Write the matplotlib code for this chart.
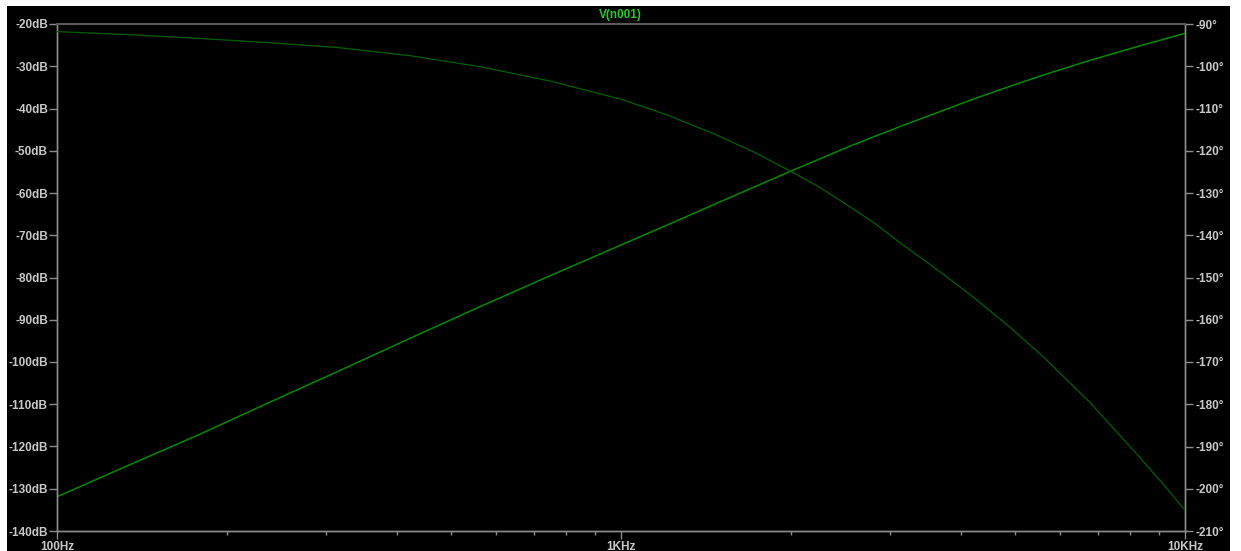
import matplotlib
matplotlib.use("Agg")
import matplotlib.pyplot as plt
from matplotlib.patches import Rectangle
from matplotlib.ticker import FixedLocator, LogLocator, NullFormatter

plt.rcParams['font.family'] = ['Liberation Sans', 'DejaVu Sans']

# values
freq = [100, 133.6, 177.8, 236.7, 316.2, 422.6, 562.3, 748.4, 1000, 1211.5, 1468,
        1714, 2001, 2245, 2516, 2818, 3162, 3649, 4209, 4856, 5600, 6785, 8254, 9104, 10000]
mag_db = [-131.9, -124.5, -117.3, -109.7, -102.1, -94.4, -86.9, -79.6, -72.3, -67.5, -62.6,
          -58.7, -54.8, -52.0, -49.2, -46.6, -44.0, -40.9, -37.8, -34.9, -32.1, -28.6, -25.3,
          -23.7, -22.2]
phase_deg = [-91.8, -92.5, -93.4, -94.4, -95.6, -97.5, -100.1, -103.5, -107.8, -111.6, -116.1,
             -120.2, -124.9, -128.6, -132.8, -137.2, -142.3, -148.3, -154.6, -161.4, -168.7,
             -179.6, -192.1, -198.6, -205.1]

db_ticks = list(range(-140, -19, 10))
deg_ticks = list(range(-210, -89, 10))
f_ticks = [100, 1000, 10000]
f_labels = ["100Hz", "1KHz", "10KHz"]

label_col = "#c8c8c8"
axis_col = "#8c8c8c"

fig = plt.figure(figsize=(12.41, 5.51), dpi=100, facecolor="white")
fig.patches.append(Rectangle((7 / 1241, 0), (1230 - 7) / 1241, 1 - 6 / 551,
                             transform=fig.transFigure, facecolor="black",
                             edgecolor="none", zorder=-10))

ax = fig.add_axes([57 / 1241, 1 - 531 / 551, (1185 - 57) / 1241, (531 - 24) / 551])
ax.set_facecolor("black")
ax.set_xscale("log")
ax.set_xlim(100, 10000)
ax.set_ylim(-140, -20)

ax.plot(freq, mag_db, color="#008a00", lw=1.1, zorder=3)

ax2 = ax.twinx()
ax2.set_ylim(-210, -90)
ax2.plot(freq, phase_deg, color="#006000", lw=0.9, zorder=3)

ax.set_yticks(db_ticks)
ax.set_yticklabels([f"{v}dB" for v in db_ticks])
ax2.set_yticks(deg_ticks)
ax2.set_yticklabels([f"{v}°" for v in deg_ticks])

ax.xaxis.set_major_locator(FixedLocator(f_ticks))
ax.set_xticklabels(f_labels)
ax.xaxis.set_minor_locator(LogLocator(base=10, subs=range(2, 10)))
ax.xaxis.set_minor_formatter(NullFormatter())

for a in (ax, ax2):
    for side in ("left", "right", "bottom"):
        a.spines[side].set_color(axis_col)
        a.spines[side].set_linewidth(1.0)
    a.spines["top"].set_color("#5a5a5a")
    a.spines["top"].set_linewidth(1.5)

ax.tick_params(axis="y", which="major", direction="out", length=6, width=1,
               color=axis_col, labelcolor=label_col, labelsize=8.5, pad=0.5)
ax2.tick_params(axis="y", which="major", direction="out", length=6, width=1,
                color=axis_col, labelcolor=label_col, labelsize=8.5, pad=1.5)
ax.tick_params(axis="x", which="major", direction="out", length=6, width=1,
               color=axis_col, labelcolor=label_col, labelsize=8.5, pad=1)
ax.tick_params(axis="x", which="minor", direction="out", length=3, width=1,
               color=axis_col)

for lbl in ax.get_yticklabels() + ax2.get_yticklabels() + ax.get_xticklabels():
    lbl.set_fontweight("bold")

fig.text(0.5, 1 - 15 / 551, "V(n001)", color="#22cc22", fontsize=8.5,
         fontweight="bold", ha="center", va="center")

fig.savefig("out.png", dpi=100, facecolor="white")
